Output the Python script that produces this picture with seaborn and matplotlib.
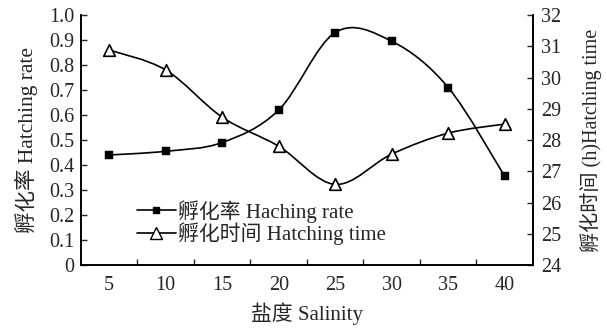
import numpy as np
import matplotlib
matplotlib.use("Agg")
import matplotlib.pyplot as plt
from matplotlib.path import Path
from matplotlib.patches import PathPatch
from matplotlib.lines import Line2D
import seaborn as sns

# data
salinity = [5, 10, 15, 20, 25, 30, 35, 40]
hatch_rate = [0.44, 0.455, 0.49, 0.62, 0.93, 0.895, 0.71, 0.355]
hatch_time = [30.88, 30.24, 28.73, 27.80, 26.58, 27.55, 28.22, 28.51]

sns.set_style("ticks")
fam = ['Liberation Serif', 'Noto Sans CJK SC']
plt.rcParams['font.family'] = fam
plt.rcParams['font.size'] = 14


def smooth_path(xs, ys):
    # Excel-like smoothed line: Catmull-Rom as cubic bezier segments
    p = np.column_stack([xs, ys]).astype(float)
    ext = np.vstack([p[0], p, p[-1]])
    verts = [p[0]]
    codes = [Path.MOVETO]
    for i in range(len(p) - 1):
        a, b, c, d = ext[i], ext[i + 1], ext[i + 2], ext[i + 3]
        verts += [b + (c - a) / 6, c - (d - b) / 6, c]
        codes += [Path.CURVE4] * 3
    return Path(verts, codes)


fig = plt.figure(figsize=(6.07, 3.29), dpi=100)
ax = fig.add_axes([0.1334, 0.1945, 0.7446, 0.7599])
ax2 = ax.twinx()

ax.add_patch(PathPatch(smooth_path(salinity, hatch_rate), fill=False,
                       edgecolor='black', lw=1.2))
sns.scatterplot(x=salinity, y=hatch_rate, ax=ax, marker='s', color='black',
                s=30, edgecolor='black', linewidth=0.3, zorder=5)

ax2.add_patch(PathPatch(smooth_path(salinity, hatch_time), fill=False,
                        edgecolor='black', lw=1.2))
sns.scatterplot(x=salinity, y=hatch_time, ax=ax2, marker='^', facecolor='white',
                edgecolor='black', linewidth=1.2, s=70, zorder=5)

ax.set_xlim(2.5, 42.5)
ax.set_ylim(0, 1.0)
ax2.set_ylim(24, 32)

ax.set_xticks(salinity)
ax.set_xticks(np.arange(7.5, 40, 5), minor=True)
ax.tick_params(axis='x', which='major', length=0, pad=8, labelsize=14.5)
ax.tick_params(axis='x', which='minor', direction='in', length=4, width=1)

yt = np.round(np.arange(0, 1.01, 0.1), 1)
ax.set_yticks(yt)
ax.set_yticklabels(['0' if v == 0 else f'{v:.1f}' for v in yt])
ax.tick_params(axis='y', direction='in', length=4, width=1, labelsize=14.5, pad=5)
ax2.set_yticks(range(24, 33))
ax2.tick_params(axis='y', direction='in', length=4, width=1, labelsize=14.5, pad=6)

for a in (ax, ax2):
    a.spines['top'].set_visible(False)
    for s in ('left', 'right', 'bottom'):
        a.spines[s].set_linewidth(1.2)
        a.spines[s].set_color('black')

ax.set_xlabel('盐度 Salinity', fontsize=15, labelpad=5)
ax.set_ylabel('孵化率 Hatching rate', fontsize=15.5, labelpad=8)
ax2.set_ylabel('孵化时间 (h)Hatching time', fontsize=14.5, labelpad=13)

handles = [
    Line2D([], [], color='black', lw=1.2, marker='s', markersize=4.5),
    Line2D([], [], color='black', lw=1.2, marker='^', markersize=8,
           markerfacecolor='white'),
]
ax2.legend(handles, ['孵化率 Haching rate', '孵化时间 Hatching time'],
           loc='center left', bbox_to_anchor=(0.1, 0.17), frameon=False,
           fontsize=15, handlelength=1.9, handletextpad=0.1,
           labelspacing=0.0, borderpad=0)

fig.savefig('out.png', dpi=100)
